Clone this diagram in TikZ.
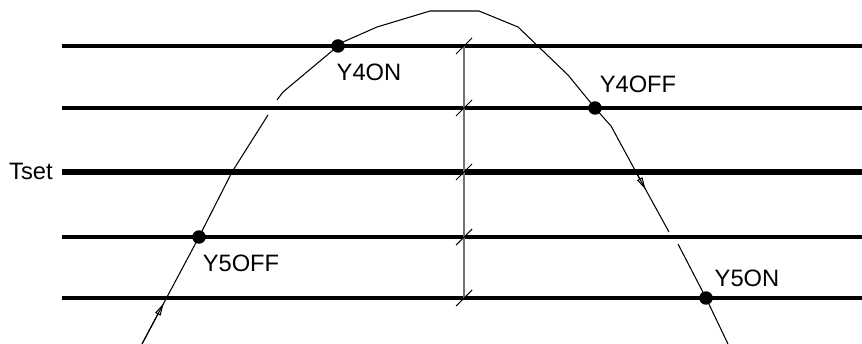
\documentclass[tikz,border=0pt]{standalone}
\usepackage{fontspec}
\setmainfont{Liberation Sans}
\usetikzlibrary{arrows.meta}
\tikzset{
  band/.style={line width=2.1pt},
  setband/.style={line width=3.3pt},
  trace/.style={line width=0.6pt},
  dimline/.style={line width=0.6pt,black!55},
  slash/.style={line width=0.6pt},
  dot/.style={circle,fill,inner sep=0pt,minimum size=0.27cm},
  tag/.style={inner sep=0pt,font=\fontsize{13.5}{16}\selectfont},
  flow/.style={trace,-{Triangle[open,length=7pt,width=3.4pt]}}
}

\begin{document}
\begin{tikzpicture}[x=0.02cm,y=-0.02cm]
  \useasboundingbox (0,0) rectangle (862,344);

  % temperature levels
  \foreach \n/\y in {a/46,b/108,d/237,e/298}{
    \coordinate (\n-l) at (62,\y);
    \coordinate (\n-r) at (862,\y);
    \draw[band] (\n-l) -- (\n-r);
  }
  \coordinate (c-l) at (62,172);
  \coordinate (c-r) at (862,172);
  \draw[setband] (c-l) -- (c-r);
  \node[tag,anchor=east] (tset) at (53,171) {Tset};

  % dimension line with slashes
  \coordinate (dim-top) at (464,46);
  \coordinate (dim-bot) at (464,298);
  \draw[dimline] (dim-top) -- (dim-bot);
  \foreach \y in {46,108,172,237,298}
    \draw[slash] (456,\y+8) -- (472,\y-8);

  % switching points
  \node[dot] (y4on) at (338,46) {};
  \node[dot] (y4off) at (595,108) {};
  \node[dot] (y5off) at (199,237) {};
  \node[dot] (y5on) at (706,298) {};
  \node[tag] (y4on-t) at (369,72) {Y4ON};
  \node[tag] (y4off-t) at (638,84) {Y4OFF};
  \node[tag] (y5off-t) at (241,263) {Y5OFF};
  \node[tag] (y5on-t) at (747,278) {Y5ON};

  % temperature curve
  \coordinate (start) at (142,344);
  \coordinate (finish) at (728,344);
  \draw[trace] (start) -- (y5off.center) -- (232,172) -- (268,115);
  \draw[trace] (277,100) -- (283,92) -- (y4on.center) -- (343,42) -- (377,27)
    -- (430,11) -- (479,11) -- (518,27) -- (568,75) -- (y4off.center)
    -- (611,126) -- (636,172) -- (669,232);
  \draw[trace] (678,244) -- (y5on.center) -- (finish);
  \draw[flow] (start) -- (163.6,303.4);
  \draw[flow] (636,172) -- (645.6,189.5);
\end{tikzpicture}
\end{document}
